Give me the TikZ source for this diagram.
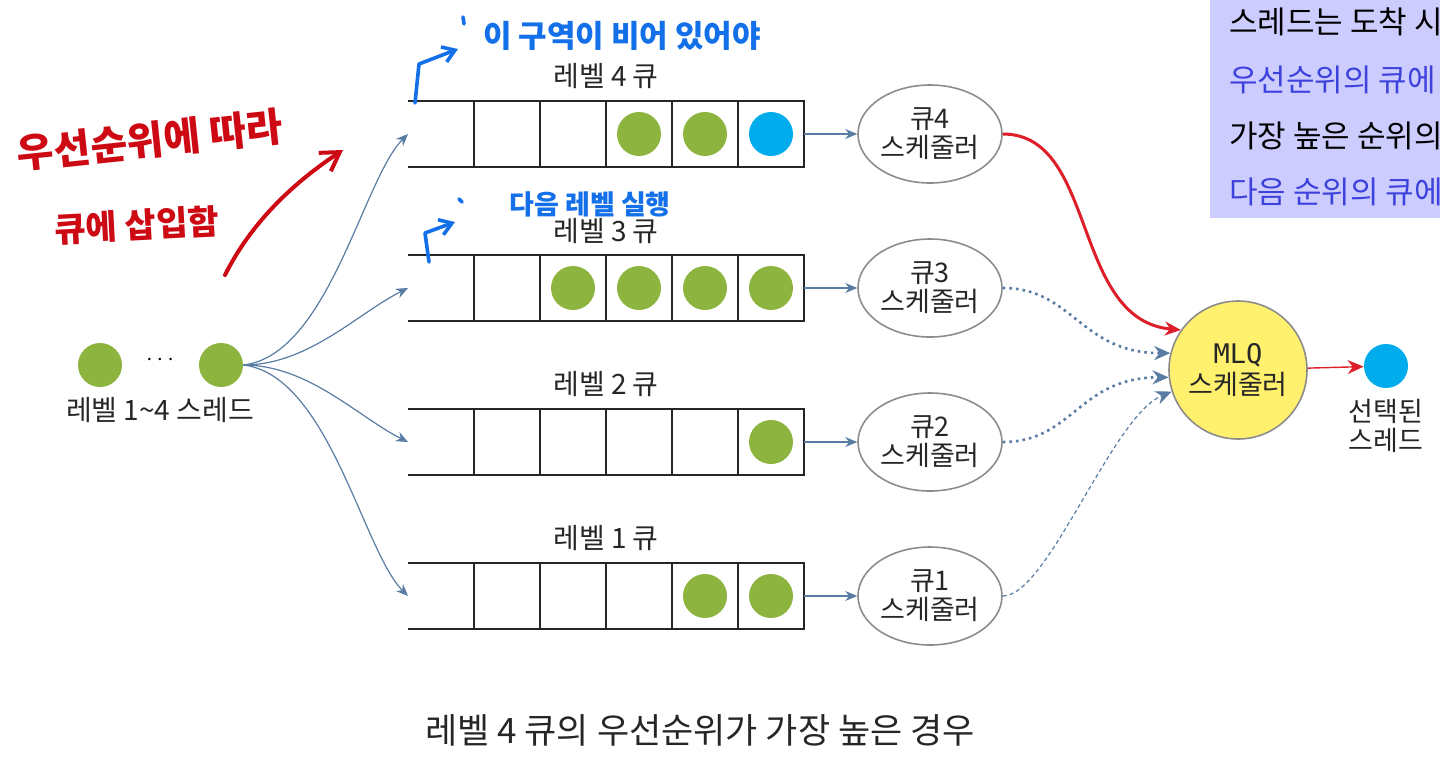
\documentclass[tikz,border=0pt]{standalone}
\usepackage{fontspec}
\setmainfont{Noto Sans CJK KR}
\newfontfamily\mlqmono{DejaVu Sans Mono}
\usepackage{xcolor}
\usetikzlibrary{positioning}
\usetikzlibrary{shapes.geometric}
\usetikzlibrary{arrows.meta}
\definecolor{ballgreen}{RGB}{141,180,62}
\definecolor{ballblue}{RGB}{0,172,236}
\definecolor{flowblue}{RGB}{88,124,164}
\definecolor{schedgray}{RGB}{140,140,140}
\definecolor{mlqyellow}{RGB}{255,241,110}
\definecolor{hotred}{RGB}{222,30,40}
\definecolor{penred}{RGB}{205,10,20}
\definecolor{penblue}{RGB}{20,112,232}
\definecolor{notefill}{RGB}{204,204,255}
\definecolor{noteblue}{RGB}{62,66,220}
\tikzset{
    ball/.style = {circle, fill=ballgreen, minimum size=22pt, inner sep=0pt},
    bball/.style = {circle, fill=ballblue, minimum size=22pt, inner sep=0pt},
    qline/.style = {line width=1.3pt, black!85},
    qlabel/.style = {font=\fontsize{14}{16}\selectfont, text=black!85},
    sched/.style = {ellipse, draw=schedgray, line width=0.8pt, align=center, minimum width=72pt, minimum height=49pt, inner sep=0pt, font=\fontsize{13.5}{14.5}\selectfont, text=black!85},
    mlqnode/.style = {circle, draw=schedgray, line width=0.8pt, fill=mlqyellow, align=center, minimum size=69pt, inner sep=0pt, font=\fontsize{13.5}{15.5}\selectfont, text=black!85},
    feed/.style = {flowblue, line width=0.6pt, -{Stealth[length=6pt,width=5pt]}},
    edger/.style = {hotred, line width=1.5pt, -{Stealth[length=8pt,width=7pt]}},
    edged/.style = {flowblue, line width=1.3pt, dotted, -{Stealth[length=8pt,width=7pt]}},
    edgedt/.style = {flowblue, line width=0.6pt, dashed, dash pattern=on 2pt off 1.5pt, -{Stealth[length=8pt,width=7pt]}},
    penr/.style = {penred, line width=2pt, line cap=round, line join=round},
    penb/.style = {penblue, line width=1.8pt, line cap=round, line join=round},
    handr/.style = {text=penred, font=\bfseries\fontsize{20}{22}\selectfont},
    handb/.style = {text=penblue, font=\bfseries\fontsize{15.5}{18}\selectfont},
}
\begin{document}
\begin{tikzpicture}[x=0.5pt, y=-0.5pt]
\useasboundingbox (0,0) rectangle (1440,783);
% note box, cut at the page edge
\begin{scope}
\clip (0,0) rectangle (1440,783);
\fill[notefill] (1210,-5) rectangle (1460,218);
\node[anchor=west, font=\fontsize{15.5}{17}\selectfont] (note1) at (1222,22) {스레드는 도착 시};
\node[anchor=west, font=\fontsize{15.5}{17}\selectfont, text=noteblue] (note2) at (1222,80) {우선순위의 큐에};
\node[anchor=west, font=\fontsize{15.5}{17}\selectfont] (note3) at (1222,136) {가장 높은 순위의};
\node[anchor=west, font=\fontsize{15.5}{17}\selectfont, text=noteblue] (note4) at (1222,192) {다음 순위의 큐에};
\end{scope}
%
% threads
\node[ball] (t1) at (100,365) {};
\node[scale=1.2] (dots) at (160,360) {$\cdots$};
\node[ball] (t2) at (221,365) {};
\node[qlabel] (tlabel) at (160,410) {레벨 1\textasciitilde4 스레드};
%
% queues
\draw[qline] (408,101) -- (804,101) -- (804,167) -- (408,167) (474,101) -- (474,167) (540,101) -- (540,167) (606,101) -- (606,167) (672,101) -- (672,167) (738,101) -- (738,167);
\draw[qline] (408,255) -- (804,255) -- (804,321) -- (408,321) (474,255) -- (474,321) (540,255) -- (540,321) (606,255) -- (606,321) (672,255) -- (672,321) (738,255) -- (738,321);
\draw[qline] (408,409) -- (804,409) -- (804,475) -- (408,475) (474,409) -- (474,475) (540,409) -- (540,475) (606,409) -- (606,475) (672,409) -- (672,475) (738,409) -- (738,475);
\draw[qline] (408,563) -- (804,563) -- (804,629) -- (408,629) (474,563) -- (474,629) (540,563) -- (540,629) (606,563) -- (606,629) (672,563) -- (672,629) (738,563) -- (738,629);
\node[qlabel] (l4) at (606,76) {레벨 4 큐};
\node[qlabel] (l3) at (606,231) {레벨 3 큐};
\node[qlabel] (l2) at (606,384) {레벨 2 큐};
\node[qlabel] (l1) at (606,538) {레벨 1 큐};
\coordinate (q4in) at (408,134);
\coordinate (q3in) at (408,288);
\coordinate (q2in) at (408,442);
\coordinate (q1in) at (408,596);
\coordinate (q4out) at (804,134);
\coordinate (q3out) at (804,288);
\coordinate (q2out) at (804,442);
\coordinate (q1out) at (804,596);
%
\node[ball] (b44) at (639,134) {};
\node[ball] (b45) at (705,134) {};
\node[bball] (b46) at (771,134) {};
\node[ball] (b33) at (573,288) {};
\node[ball] (b34) at (639,288) {};
\node[ball] (b35) at (705,288) {};
\node[ball] (b36) at (771,288) {};
\node[ball] (b26) at (771,442) {};
\node[ball] (b15) at (705,596) {};
\node[ball] (b16) at (771,596) {};
%
% schedulers
\node[sched] (s4) at (930,134) {큐4\\스케줄러};
\node[sched] (s3) at (930,288) {큐3\\스케줄러};
\node[sched] (s2) at (930,442) {큐2\\스케줄러};
\node[sched] (s1) at (930,596) {큐1\\스케줄러};
\node[mlqnode] (mlq) at (1238,370) {{\mlqmono MLQ}\\스케줄러};
\node[bball] (sel) at (1386,366) {};
\node[qlabel, below=2pt of sel, align=center, font=\fontsize{13.5}{14.5}\selectfont] (sellabel) {선택된\\스레드};
%
\draw[feed] (t2.east) .. controls +(85,-10) and +(-45,45) .. (q4in);
\draw[feed] (t2.east) .. controls +(65,0) and +(-50,25) .. (q3in);
\draw[feed] (t2.east) .. controls +(65,0) and +(-50,-25) .. (q2in);
\draw[feed] (t2.east) .. controls +(85,10) and +(-45,-45) .. (q1in);
%
\draw[feed] (q4out) -- (s4);
\draw[feed] (q3out) -- (s3);
\draw[feed] (q2out) -- (s2);
\draw[feed] (q1out) -- (s1);
%
\draw[edger] (s4.east) .. controls +(95,0) and +(-110,-10) .. (mlq.145);
\draw[edged] (s3.east) .. controls +(70,0) and +(-90,0) .. (mlq.166);
\draw[edged] (s2.east) .. controls +(70,0) and +(-90,0) .. (mlq.186);
\draw[edgedt] (s1.east) .. controls +(45,0) and +(-60,25) .. (mlq.198);
\draw[hotred, line width=0.7pt, -{Stealth[length=8pt,width=7pt]}] (mlq) -- (sel);
%
% caption
\node[font=\fontsize{17.5}{19}\selectfont, text=black!85] (caption) at (700,730) {레벨 4 큐의 우선순위가 가장 높은 경우};
%
% pen notes
\node[handr, rotate=6] (pen1) at (150,140) {우선순위에 따라};
\node[handr, font=\bfseries\fontsize{17}{20}\selectfont, rotate=3] (pen2) at (137,225) {큐에 삽입함};
\draw[penr, -{Straight Barb[length=9pt,width=11pt]}] (225,275) .. controls (250,225) and (290,185) .. (343,150);
\node[handb] (pen3) at (622,36) {이 구역이 비어 있어야};
\node[handb, font=\bfseries\fontsize{13.5}{16}\selectfont] (pen4) at (590,204) {다음 레벨 실행};
\draw[penb, -{Straight Barb[length=6pt,width=8pt]}] (415,103) -- (419,64) -- (458,49);
\draw[penb] (463,17) -- (464,24);
\draw[penb, -{Straight Barb[length=6pt,width=8pt]}] (429,262) -- (425,233) -- (455,222);
\draw[penb] (459,199) -- (462,202);
\end{tikzpicture}
\end{document}
